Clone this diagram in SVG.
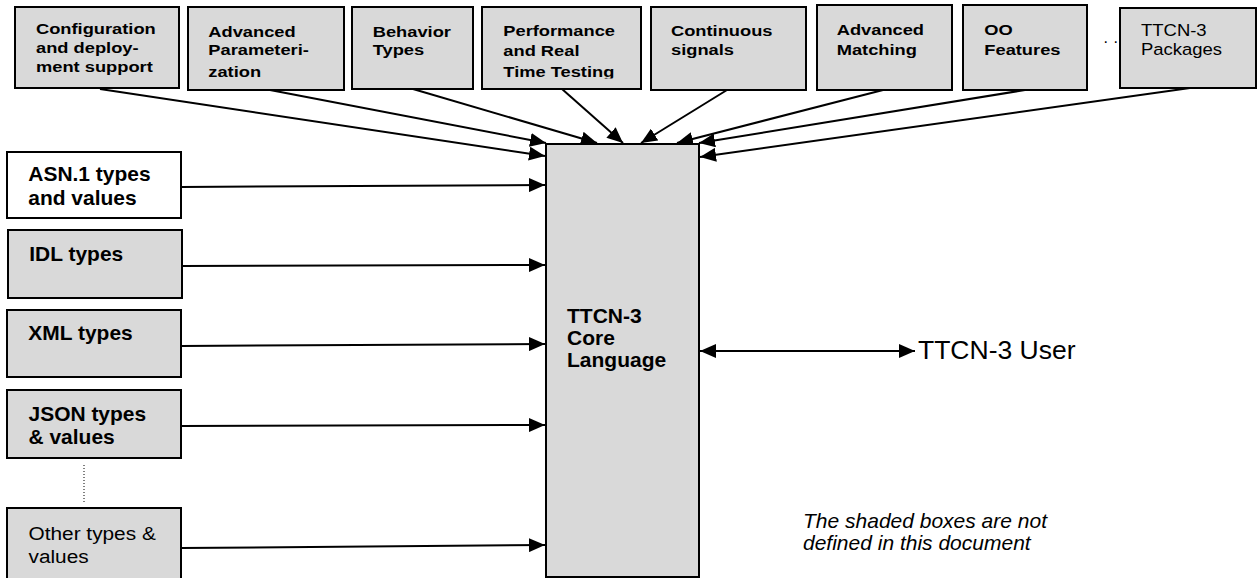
<svg xmlns="http://www.w3.org/2000/svg" width="1257" height="578" viewBox="0 0 1257 578">
<style>
.box{fill:#d9d9d9;stroke:#000;stroke-width:2}
.wbox{fill:#fff;stroke:#000;stroke-width:2}
.t{font-family:"Liberation Sans",Arial,Helvetica,sans-serif;fill:#000}
.b{font-weight:bold}
.top{font-size:15.5px}
.left{font-size:19.5px}
.conn{stroke:#000;stroke-width:2;fill:none;marker-end:url(#ah)}
</style>
<defs>
<marker id="ah" markerUnits="userSpaceOnUse" markerWidth="16" markerHeight="14" viewBox="0 0 16 14" refX="16" refY="7" orient="auto-start-reverse">
<path d="M0,0 L16,7 L0,14 z" fill="#000"/>
</marker>
<clipPath id="perfclip"><rect x="482" y="7" width="159" height="71.5"/></clipPath>
</defs>
<rect width="1257" height="578" fill="#fff"/>

<g id="connectors">
<line class="conn" x1="100" y1="89" x2="545" y2="156"/>
<line class="conn" x1="270" y1="90" x2="546" y2="143"/>
<line class="conn" x1="413" y1="89" x2="597" y2="143"/>
<line class="conn" x1="562" y1="89" x2="623" y2="143"/>
<line class="conn" x1="727" y1="90" x2="641" y2="143"/>
<line class="conn" x1="883" y1="90" x2="677" y2="143"/>
<line class="conn" x1="1025" y1="90" x2="699" y2="143"/>
<line class="conn" x1="1190" y1="88" x2="700" y2="157"/>
<line class="conn" x1="181" y1="187" x2="545" y2="185"/>
<line class="conn" x1="182" y1="266" x2="545" y2="265"/>
<line class="conn" x1="181" y1="346" x2="545" y2="344"/>
<line class="conn" x1="181" y1="426" x2="545" y2="425"/>
<line class="conn" x1="181" y1="548" x2="545" y2="545"/>
<line class="conn" x1="700" y1="351" x2="915" y2="351" marker-start="url(#ah)"/>
<line x1="84" y1="465" x2="84" y2="504" stroke="#000" stroke-width="1" stroke-dasharray="1 2"/>
</g>

<g id="n-config">
<rect class="box" x="15" y="7" width="164" height="81"/>
<text class="t b top" transform="translate(36,34.3) scale(1.18,1)"><tspan x="0" y="0">Configuration</tspan><tspan x="0" y="18.8">and deploy-</tspan><tspan x="0" y="37.5">ment support</tspan></text>
</g>
<g id="n-param">
<rect class="box" x="188" y="7" width="156" height="83"/>
<text class="t b top" transform="translate(208.3,36.5) scale(1.18,1)"><tspan x="0" y="0">Advanced</tspan><tspan x="0" y="18.5">Parameteri-</tspan><tspan x="0" y="41">zation</tspan></text>
</g>
<g id="n-behavior">
<rect class="box" x="352" y="7" width="121" height="82"/>
<text class="t b top" transform="translate(372.7,36.5) scale(1.18,1)"><tspan x="0" y="0">Behavior</tspan><tspan x="0" y="18.5">Types</tspan></text>
</g>
<g id="n-perf">
<rect class="box" x="482" y="7" width="159" height="82"/>
<g clip-path="url(#perfclip)">
<text class="t b top" transform="translate(503.3,36) scale(1.18,1)"><tspan x="0" y="0">Performance</tspan><tspan x="0" y="20.5">and Real</tspan><tspan x="0" y="41">Time Testing</tspan></text>
</g>
</g>
<g id="n-cont">
<rect class="box" x="651" y="7" width="155" height="83"/>
<text class="t b top" transform="translate(671,36) scale(1.18,1)"><tspan x="0" y="0">Continuous</tspan><tspan x="0" y="19">signals</tspan></text>
</g>
<g id="n-match">
<rect class="box" x="817" y="5" width="135" height="85"/>
<text class="t b top" transform="translate(836.7,35) scale(1.18,1)"><tspan x="0" y="0">Advanced</tspan><tspan x="0" y="20">Matching</tspan></text>
</g>
<g id="n-oo">
<rect class="box" x="963" y="5" width="124" height="85"/>
<text class="t b top" transform="translate(984.3,34.5) scale(1.18,1)"><tspan x="0" y="0">OO</tspan><tspan x="0" y="20.5">Features</tspan></text>
</g>
<text class="t" x="1103.6" y="43" font-size="16" letter-spacing="5.5">..</text>
<g id="n-packages">
<rect class="box" x="1120" y="8" width="136" height="80"/>
<text class="t" font-size="16.8" transform="translate(1141,36) scale(1.1,1)"><tspan x="0" y="0">TTCN-3</tspan><tspan x="0" y="19">Packages</tspan></text>
</g>

<g id="n-asn">
<rect class="wbox" x="7" y="152" width="174" height="66"/>
<text class="t b left" transform="translate(28.3,180.7) scale(1.075,1)"><tspan x="0" y="0">ASN.1 types</tspan><tspan x="0" y="24.3">and values</tspan></text>
</g>
<g id="n-idl">
<rect class="box" x="8" y="230" width="174" height="68"/>
<text class="t b left" transform="translate(29.3,260.7) scale(1.075,1)">IDL types</text>
</g>
<g id="n-xml">
<rect class="box" x="7" y="310" width="174" height="67"/>
<text class="t b left" transform="translate(28.3,340) scale(1.075,1)">XML types</text>
</g>
<g id="n-json">
<rect class="box" x="7" y="390" width="174" height="68"/>
<text class="t b left" transform="translate(28.5,420.7) scale(1.075,1)"><tspan x="0" y="0">JSON types</tspan><tspan x="0" y="23.3">&amp; values</tspan></text>
</g>
<g id="n-other">
<rect class="box" x="7" y="508" width="174" height="82"/>
<text class="t" font-size="18.6" transform="translate(28.5,540) scale(1.12,1)"><tspan x="0" y="0">Other types &amp;</tspan><tspan x="0" y="23">values</tspan></text>
</g>

<g id="n-core">
<rect class="box" x="546" y="144" width="153" height="433"/>
<text class="t b" font-size="21"><tspan x="567" y="322.7">TTCN-3</tspan><tspan x="567" y="345">Core</tspan><tspan x="567" y="367.3">Language</tspan></text>
</g>

<g id="n-user">
<text class="t" font-size="26.5" x="918" y="359">TTCN-3 User</text>
</g>

<g id="note">
<text class="t" font-size="21" font-style="italic"><tspan x="803" y="528">The shaded boxes are not</tspan><tspan x="803" y="550">defined in this document</tspan></text>
</g>
</svg>
